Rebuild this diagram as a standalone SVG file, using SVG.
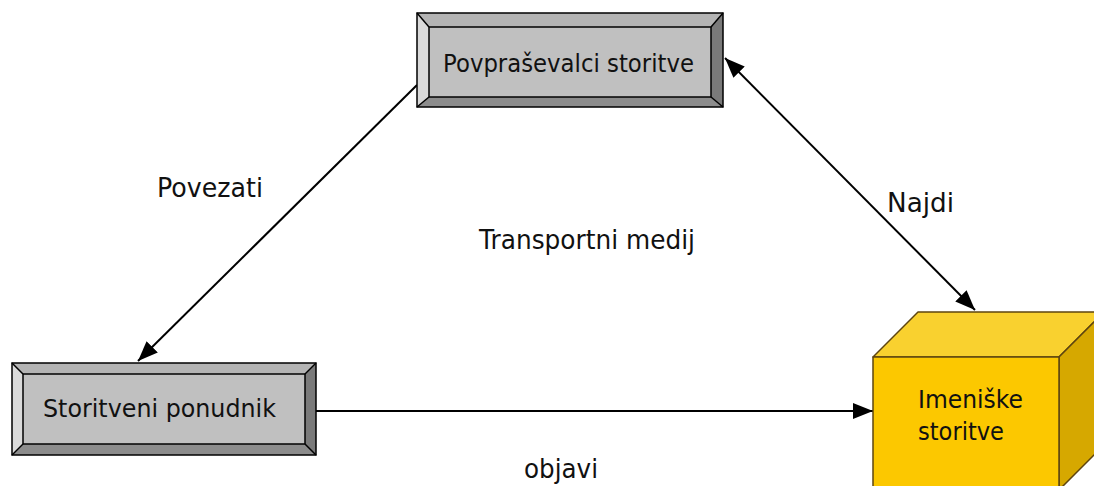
<svg xmlns="http://www.w3.org/2000/svg" width="1094" height="486" viewBox="0 0 1094 486">
  <style>
    .lbl { font-family: "DejaVu Sans", Verdana, sans-serif; font-size: 27px; fill: #111; }
    .btxt { font-family: "DejaVu Sans", Verdana, sans-serif; font-size: 25px; fill: #111; }
    .edge { stroke: #000; stroke-width: 2; fill: none; }
    .bv-top { fill: #b4b4b4; }
    .bv-left { fill: #dadada; }
    .bv-right { fill: #7a7a7a; }
    .bv-bottom { fill: #8c8c8c; }
    .face { fill: #c0c0c0; stroke: #000; stroke-width: 1.5; }
    .frame { fill: none; stroke: #000; stroke-width: 1.5; }
    .cube { stroke: #5e4510; stroke-width: 1.5; stroke-linejoin: round; }
  </style>
  <defs>
    <marker id="arrow" markerUnits="userSpaceOnUse" markerWidth="22" markerHeight="16" refX="20" refY="8" orient="auto-start-reverse">
      <path d="M0,0 L20,8 L0,16 z" fill="#000"/>
    </marker>
  </defs>
  <rect width="1094" height="486" fill="#fff"/>

  <!-- connectors -->
  <g id="connectors">
    <line class="edge" x1="417" y1="85" x2="138" y2="361" marker-end="url(#arrow)"/>
    <line class="edge" x1="725" y1="58" x2="975" y2="310" marker-start="url(#arrow)" marker-end="url(#arrow)"/>
    <line class="edge" x1="316" y1="411" x2="873" y2="411" marker-end="url(#arrow)"/>
  </g>

  <!-- edge labels -->
  <g id="labels">
    <text class="lbl" x="157" y="197" textLength="106" lengthAdjust="spacingAndGlyphs">Povezati</text>
    <text class="lbl" x="479" y="249" textLength="216" lengthAdjust="spacingAndGlyphs">Transportni medij</text>
    <text class="lbl" x="887" y="212" textLength="67" lengthAdjust="spacingAndGlyphs">Najdi</text>
    <text class="lbl" x="524" y="478" textLength="74" lengthAdjust="spacingAndGlyphs">objavi</text>
  </g>

  <!-- service requesters -->
  <g id="requesters">
    <polygon class="bv-top" points="417,13 723,13 711,27 429,27"/>
    <polygon class="bv-left" points="417,13 429,27 429,97 417,107"/>
    <polygon class="bv-right" points="723,13 723,107 711,97 711,27"/>
    <polygon class="bv-bottom" points="417,107 429,97 711,97 723,107"/>
    <rect class="face" x="429" y="27" width="282" height="70"/>
    <rect class="frame" x="417" y="13" width="306" height="94"/>
    <line class="frame" x1="417" y1="13" x2="429" y2="27"/>
    <line class="frame" x1="723" y1="13" x2="711" y2="27"/>
    <line class="frame" x1="417" y1="107" x2="429" y2="97"/>
    <line class="frame" x1="723" y1="107" x2="711" y2="97"/>
    <text class="btxt" x="443" y="72" textLength="251" lengthAdjust="spacingAndGlyphs">Povpraševalci storitve</text>
  </g>

  <!-- service provider -->
  <g id="provider">
    <polygon class="bv-top" points="12,363 316,363 305,374 23,374"/>
    <polygon class="bv-left" points="12,363 23,374 23,444 12,455"/>
    <polygon class="bv-right" points="316,363 316,455 305,444 305,374"/>
    <polygon class="bv-bottom" points="12,455 23,444 305,444 316,455"/>
    <rect class="face" x="23" y="374" width="282" height="70"/>
    <rect class="frame" x="12" y="363" width="304" height="92"/>
    <line class="frame" x1="12" y1="363" x2="23" y2="374"/>
    <line class="frame" x1="316" y1="363" x2="305" y2="374"/>
    <line class="frame" x1="12" y1="455" x2="23" y2="444"/>
    <line class="frame" x1="316" y1="455" x2="305" y2="444"/>
    <text class="btxt" x="43" y="417" textLength="233" lengthAdjust="spacingAndGlyphs">Storitveni ponudnik</text>
  </g>

  <!-- directory services cube -->
  <g id="directory">
    <polygon class="cube" fill="#f9d12f" points="873,357 918,312 1104,312 1059,357"/>
    <polygon class="cube" fill="#d6a800" points="1059,357 1104,312 1104,445 1059,490"/>
    <rect class="cube" fill="#fcc800" x="873" y="357" width="186" height="133"/>
    <text class="btxt" x="918" y="408" textLength="105" lengthAdjust="spacingAndGlyphs">Imeniške</text>
    <text class="btxt" x="918" y="440" textLength="86" lengthAdjust="spacingAndGlyphs">storitve</text>
  </g>
</svg>
